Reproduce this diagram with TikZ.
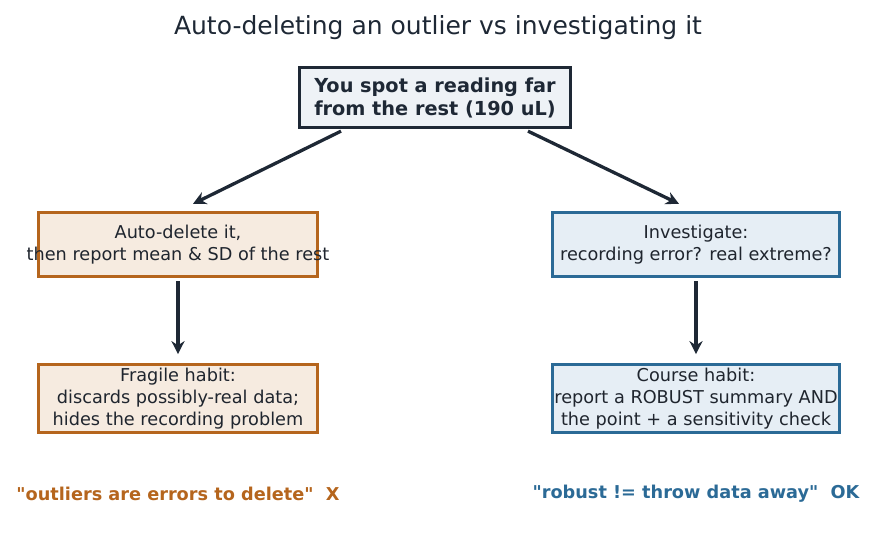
\documentclass[tikz,border=0pt]{standalone}
\usepackage{fontspec}
\setmainfont{DejaVu Sans}
\usepackage{tikz}
\usetikzlibrary{positioning, arrows.meta}

\definecolor{navy}{HTML}{1E2835}
\definecolor{rust}{HTML}{B5651D}
\definecolor{steel}{HTML}{2B6A96}
\definecolor{rustfill}{HTML}{F6EBE0}
\definecolor{steelfill}{HTML}{E6EEF5}
\definecolor{topfill}{HTML}{EEF2F6}
\definecolor{ink}{HTML}{1F252E}

\begin{document}
\begin{tikzpicture}[x=1pt, y=1pt]
    \tikzstyle{question} = [rectangle, minimum width=271pt, minimum height=60pt, align=center, inner sep=0pt, line width=3.3pt, draw=navy, fill=topfill, text=navy, font=\fontsize{19.3}{23}\selectfont\bfseries]
    \tikzstyle{badbox} = [rectangle, minimum width=279pt, minimum height=64pt, align=center, inner sep=0pt, line width=3.3pt, draw=rust, fill=rustfill, text=ink, font=\fontsize{17.7}{22}\selectfont]
    \tikzstyle{goodbox} = [rectangle, minimum width=287pt, minimum height=64pt, align=center, inner sep=0pt, line width=3.3pt, draw=steel, fill=steelfill, text=ink, font=\fontsize{17.7}{22}\selectfont]
    \tikzstyle{verdict} = [inner sep=0pt, font=\fontsize{17.7}{20}\selectfont\bfseries]
    \tikzstyle{arrow} = [line width=3.3pt, draw=navy, -{Stealth[length=13pt, width=13pt]}]

    \useasboundingbox (0,0) rectangle (876,-558);

    % Nodes
    \node (title) [text=navy, font=\fontsize{25}{28}\selectfont] at (438,-28) {Auto-deleting an outlier vs investigating it};
    \node (spot) [question] at (435,-97.5) {You spot a reading far\\from the rest (190 uL)};
    \node (autodel) [badbox] at (178,-244.5) {Auto-delete it,\\\makebox[260pt]{then report mean \& SD of the rest}};
    \node (investigate) [goodbox] at (696,-244.5) {Investigate:\\recording error? real extreme?};
    \node (fragile) [badbox, minimum height=68pt, below=85pt of autodel] {Fragile habit:\\discards possibly-real data;\\hides the recording problem};
    \node (course) [goodbox, minimum height=68pt, below=85pt of investigate] {Course habit:\\\makebox[270pt]{report a ROBUST summary AND}\\the point + a sensitivity check};
    \node (badmotto) [verdict, text=rust] at (178,-494) {\textquotedbl outliers are errors to delete\textquotedbl\ \ X};
    \node (goodmotto) [verdict, text=steel] at (696,-494) {\textquotedbl robust != throw data away\textquotedbl\ \ OK};

    % Arrows
    \draw [arrow] ([xshift=-94pt, yshift=-2pt]spot.south) -- ([xshift=15pt, yshift=7pt]autodel.north);
    \draw [arrow] ([xshift=93pt, yshift=-2pt]spot.south) -- ([xshift=-17pt, yshift=7pt]investigate.north);
    \draw [arrow] ([yshift=-3pt]autodel.south) -- ([yshift=9pt]fragile.north);
    \draw [arrow] ([yshift=-3pt]investigate.south) -- ([yshift=9pt]course.north);
\end{tikzpicture}
\end{document}
